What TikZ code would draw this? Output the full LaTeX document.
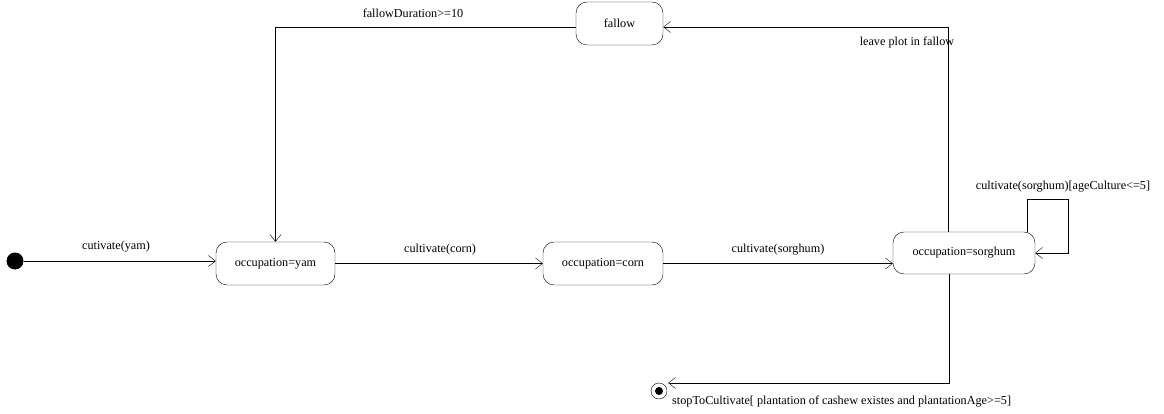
\documentclass[tikz,border=0pt]{standalone}
\usepackage{fontspec}
\setmainfont{Liberation Serif}
\usetikzlibrary{arrows.meta}
\tikzset{
    state/.style={draw, rounded corners=11pt, minimum height=43pt, inner sep=0pt, font=\fontsize{12.2}{14}\selectfont},
    trans/.style={-{Straight Barb[length=7pt,width=11pt]}},
    lbl/.style={font=\fontsize{12.2}{14}\selectfont, inner sep=0pt}
}
\begin{document}
\begin{tikzpicture}[x=1pt, y=-1pt]
    \useasboundingbox (0, 0) rectangle (1164, 414);
    % States
    \node[circle, fill, minimum size=17pt, inner sep=0pt] (start) at (15, 261) {};
    \node[state, minimum width=119pt] (yam) at (275.5, 263.5) {occupation=yam};
    \node[state, minimum width=120pt] (corn) at (603, 263.5) {occupation=corn};
    \node[state, minimum width=142pt, minimum height=42pt] (sorghum) at (964, 253) {occupation=sorghum};
    \node[state, minimum width=87pt] (fallow) at (619.5, 23.5) {fallow};
    \node[circle, draw, minimum size=16pt, inner sep=0pt] (final) at (659, 391) {};
    \node[circle, fill, minimum size=8pt, inner sep=0pt] at (final) {};
    % Transitions
    \draw[trans] (start) -- (start -| yam.west);
    \draw[trans] (yam.east) -- (corn.west);
    \draw[trans] (corn.east) -- (corn.east -| sorghum.west);
    \coordinate (loop) at (1068, 199);
    \draw[trans] ([xshift=63pt]sorghum.north) |- (loop) |- (sorghum.east);
    \draw[trans] ([xshift=-16pt]sorghum.north) |- ([yshift=-3.5pt]fallow.east);
    \draw[trans] ([yshift=-3.5pt]fallow.west) -| (yam.north);
    \draw[trans] ([xshift=-15pt]sorghum.south) |- ([shift={(1pt,8pt)}]final.east);
    % Labels
    \node[lbl] at (116, 247) {cutivate(yam)};
    \node[lbl] at (440, 250) {cultivate(corn)};
    \node[lbl] at (778, 250) {cultivate(sorghum)};
    \node[lbl] at (1063, 187) {cultivate(sorghum)[ageCulture<=5]};
    \node[lbl] at (413, 13) {fallowDuration>=10};
    \node[lbl] at (907, 43) {leave plot in fallow};
    \node[lbl, anchor=west] at (672, 402) {stopToCultivate[ plantation of cashew existes and plantationAge>=5]};
\end{tikzpicture}
\end{document}
